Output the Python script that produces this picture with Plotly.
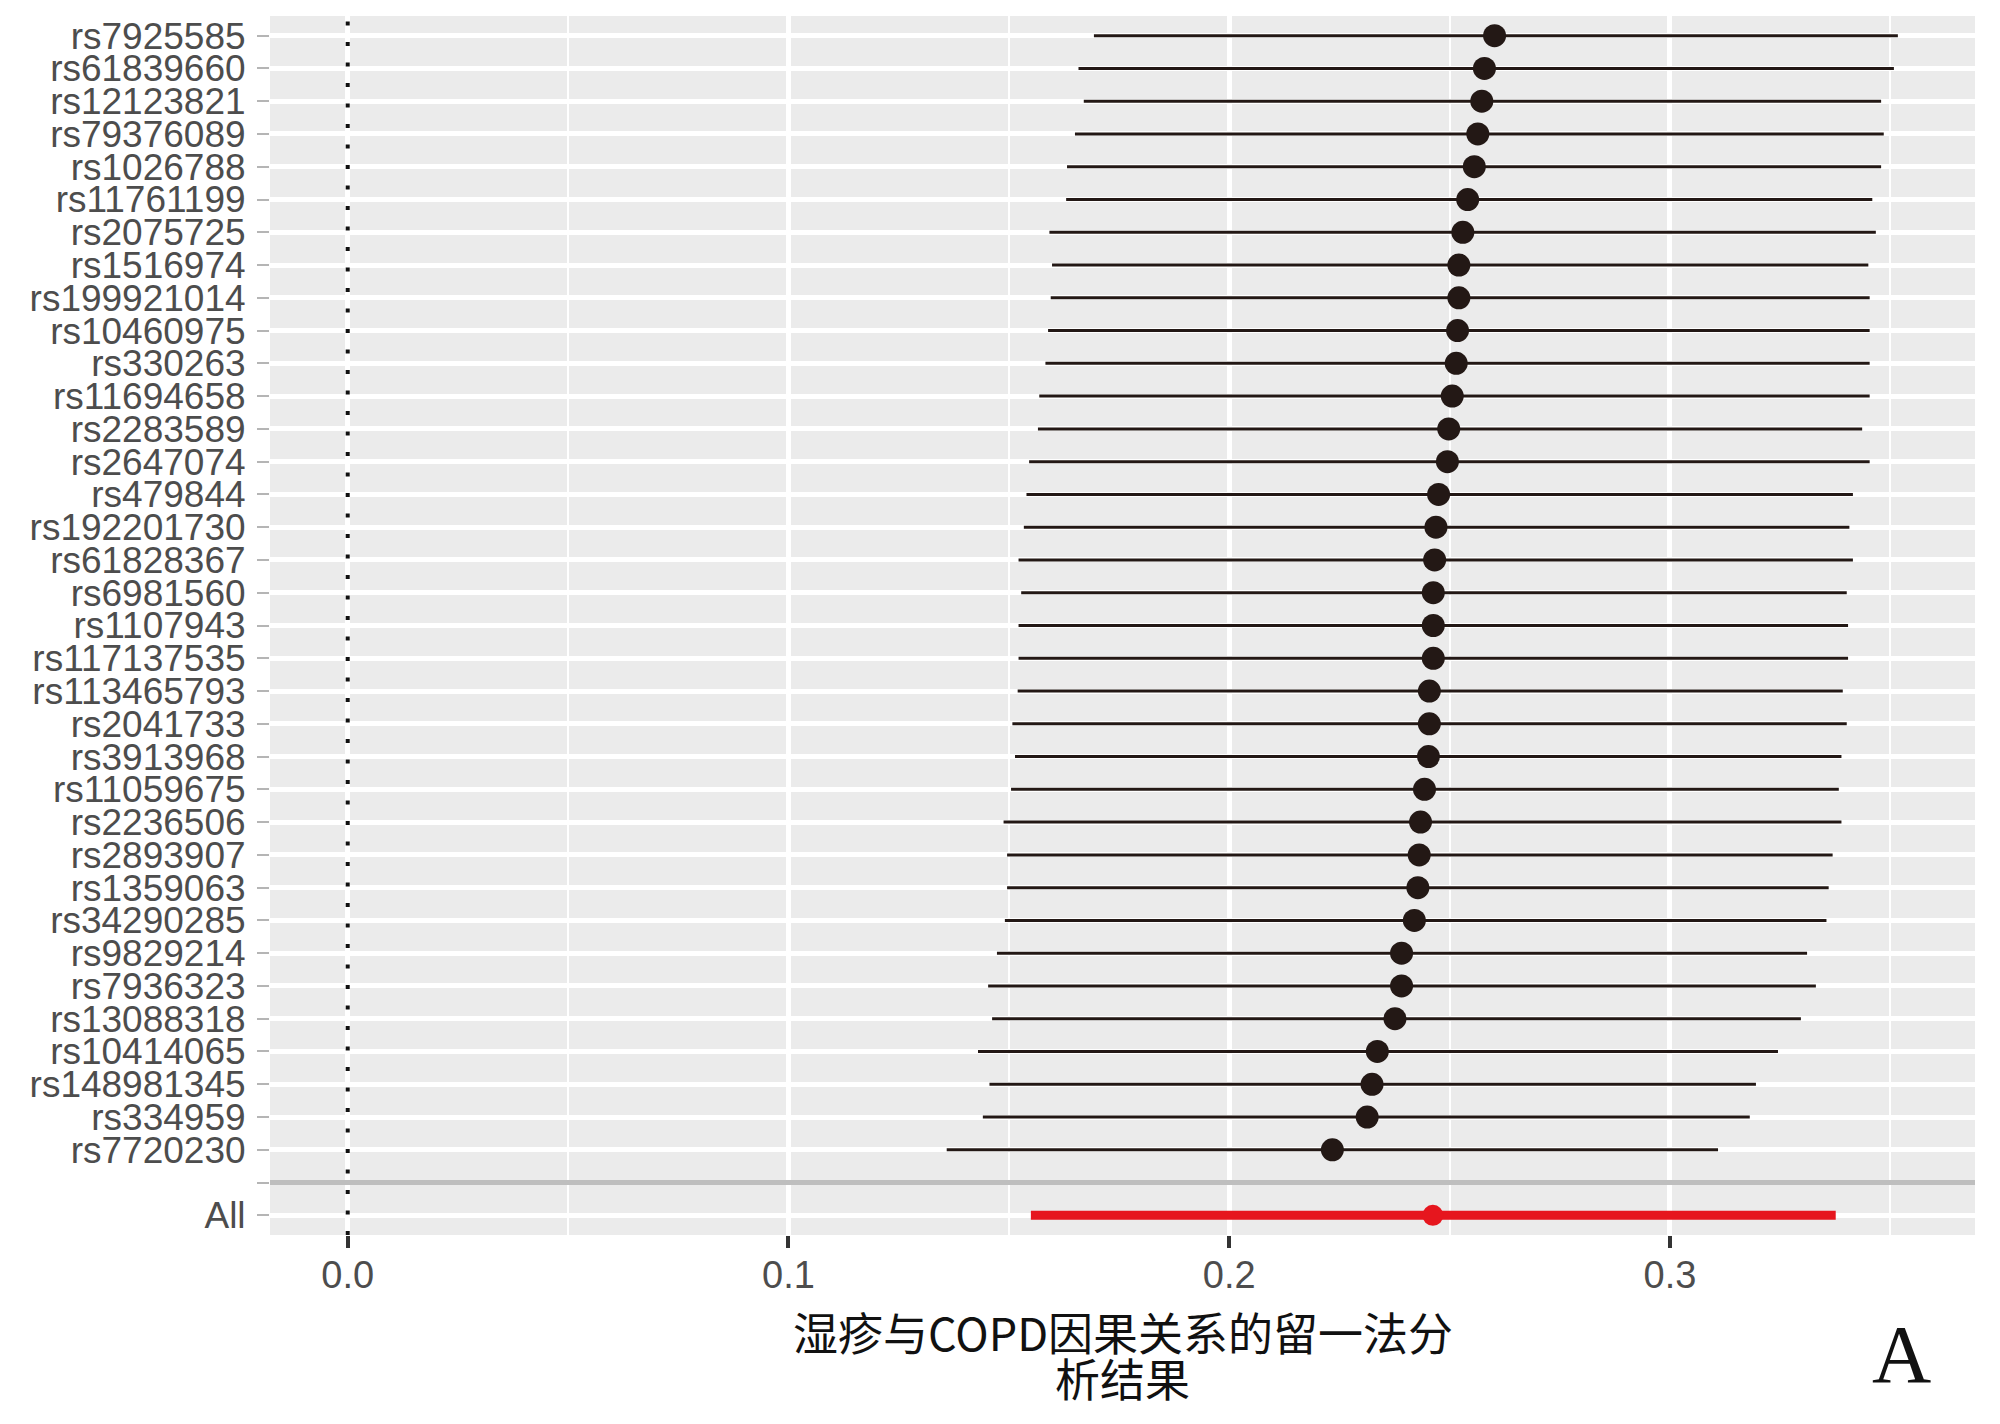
import plotly.graph_objects as go

# leave-one-out estimates, top row first
snps = [
    "rs7925585", "rs61839660", "rs12123821", "rs79376089", "rs1026788",
    "rs11761199", "rs2075725", "rs1516974", "rs199921014", "rs10460975",
    "rs330263", "rs11694658", "rs2283589", "rs2647074", "rs479844",
    "rs192201730", "rs61828367", "rs6981560", "rs1107943", "rs117137535",
    "rs113465793", "rs2041733", "rs3913968", "rs11059675", "rs2236506",
    "rs2893907", "rs1359063", "rs34290285", "rs9829214", "rs7936323",
    "rs13088318", "rs10414065", "rs148981345", "rs334959", "rs7720230",
]
b = [
    0.2602, 0.2579, 0.2573, 0.2564, 0.2556, 0.2541, 0.2530, 0.2521, 0.2521, 0.2518,
    0.2515, 0.2506, 0.2498, 0.2495, 0.2475, 0.2469, 0.2466, 0.2463, 0.2463, 0.2463,
    0.2454, 0.2454, 0.2452, 0.2443, 0.2434, 0.2431, 0.2428, 0.2420, 0.2391, 0.2391,
    0.2376, 0.2336, 0.2324, 0.2313, 0.2234,
]
lo = [
    0.1693, 0.1658, 0.1670, 0.1650, 0.1632, 0.1630, 0.1592, 0.1598, 0.1595, 0.1589,
    0.1583, 0.1569, 0.1566, 0.1546, 0.1540, 0.1534, 0.1522, 0.1528, 0.1522, 0.1522,
    0.1520, 0.1508, 0.1514, 0.1505, 0.1488, 0.1496, 0.1496, 0.1491, 0.1473, 0.1453,
    0.1462, 0.1430, 0.1456, 0.1441, 0.1359,
]
up = [
    0.3517, 0.3508, 0.3479, 0.3485, 0.3479, 0.3459, 0.3467, 0.3450, 0.3453, 0.3453,
    0.3453, 0.3453, 0.3436, 0.3453, 0.3415, 0.3407, 0.3415, 0.3401, 0.3404, 0.3404,
    0.3392, 0.3401, 0.3389, 0.3383, 0.3389, 0.3369, 0.3360, 0.3355, 0.3311, 0.3331,
    0.3297, 0.3245, 0.3195, 0.3181, 0.3109,
]
all_b, all_lo, all_up = 0.2462, 0.1550, 0.3376

x_ticks = [0.0, 0.1, 0.2, 0.3]
x_title_1 = "湿疹与COPD因果关系的留一法分"
x_title_2 = "析结果"
panel_tag = "A"

_DOT = "#231815"
_RED = "#e6161e"
_TICK_FONT = "Liberation Sans, Arial, sans-serif"

n = len(snps)
y_snp = [n + 1 - i for i in range(n)]  # top = n+1 ... bottom = 2
y_gap, y_all = 1, 0

fig = go.Figure()

# individual SNP removed
fig.add_trace(go.Scatter(
    x=b,
    y=y_snp,
    mode="markers",
    marker=dict(color=_DOT, size=23),
    error_x=dict(
        type="data", symmetric=False,
        array=[u - v for u, v in zip(up, b)],
        arrayminus=[v - l for v, l in zip(b, lo)],
        color=_DOT, thickness=3, width=0,
    ),
    showlegend=False,
    hoverinfo="skip",
))

# all SNPs
fig.add_trace(go.Scatter(
    x=[all_b],
    y=[y_all],
    mode="markers",
    marker=dict(color=_RED, size=21),
    error_x=dict(
        type="data", symmetric=False,
        array=[all_up - all_b], arrayminus=[all_b - all_lo],
        color=_RED, thickness=9, width=0,
    ),
    showlegend=False,
    hoverinfo="skip",
))

shapes = [
    # separator between SNP rows and the overall estimate
    dict(type="line", xref="paper", yref="y", x0=0, x1=1, y0=y_gap, y1=y_gap,
         line=dict(color="#bebebe", width=5), layer="above"),
    # null effect
    dict(type="line", xref="x", yref="paper", x0=0, x1=0, y0=0, y1=1,
         line=dict(color="#111111", width=4, dash="4px,16.5px"), layer="above"),
]

annotations = [
    dict(text=x_title_1, xref="paper", yref="paper", x=0.5, y=-0.0795,
         showarrow=False, xanchor="center", yanchor="middle",
         font=dict(family="Noto Sans CJK SC", size=45, color="#111111")),
    dict(text=x_title_2, xref="paper", yref="paper", x=0.5, y=-0.1165,
         showarrow=False, xanchor="center", yanchor="middle",
         font=dict(family="Noto Sans CJK SC", size=45, color="#111111")),
    dict(text=panel_tag, xref="paper", yref="paper", x=0.9566, y=-0.098,
         showarrow=False, xanchor="center", yanchor="middle",
         font=dict(family="Liberation Serif, serif", size=82, color="#111111")),
]

# the page body adds an 8px offset, so margins are trimmed to keep the panel in place
fig.update_layout(
    width=2000,
    height=1424,
    margin=dict(l=262, r=33, t=8, b=197),
    paper_bgcolor="white",
    plot_bgcolor="#ebebeb",
    shapes=shapes,
    annotations=annotations,
    xaxis=dict(
        range=[-0.01763, 0.3692],
        tickvals=x_ticks,
        ticktext=[f"{v:.1f}" for v in x_ticks],
        showgrid=True, gridcolor="white", gridwidth=4.6,
        minor=dict(dtick=0.05, tick0=0, showgrid=True, gridcolor="white", gridwidth=2.4),
        zeroline=False,
        ticks="outside", ticklen=12, tickwidth=4, tickcolor="#333333",
        tickfont=dict(family=_TICK_FONT, size=38, color="#4d4d4d"),
        ticklabelstandoff=-6,
        showline=False,
    ),
    yaxis=dict(
        range=[-0.6, n + 1.6],
        tickvals=y_snp + [y_gap, y_all],
        ticktext=snps + ["", "All"],
        showgrid=True, gridcolor="white", gridwidth=5,
        zeroline=False,
        ticks="outside", ticklen=12, tickwidth=2, tickcolor="#b5b5b5",
        tickfont=dict(family=_TICK_FONT, size=37, color="#4d4d4d"),
        ticklabelstandoff=4,
        showline=False,
    ),
)

fig.write_html("out.html")
